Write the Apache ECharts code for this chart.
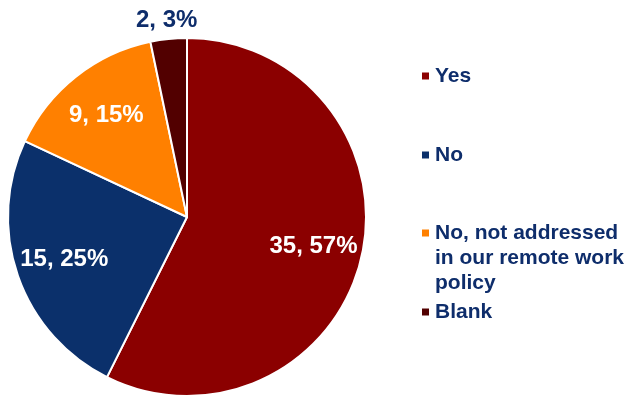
<!DOCTYPE html>
<html>
<head>
<meta charset="utf-8">
<script src="https://cdn.jsdelivr.net/npm/echarts@6/dist/echarts.min.js"></script>
<style>
  html, body { margin: 0; padding: 0; background: #ffffff; }
  #chart { width: 627px; height: 397px; }
</style>
</head>
<body>
<div id="chart"></div>
<script>
// Survey responses
const categories = ['Yes', 'No', 'No, not addressed in our remote work policy', 'Blank'];
const legendText = ['Yes', 'No', 'No, not addressed\nin our remote work\npolicy', 'Blank'];
const counts = [35, 15, 9, 2];

const sliceColors = ['#8B0000', '#0B306B', '#FF8000', '#520000'];
const navy = '#0E2D6B';
const font = "'Liberation Sans', Arial, sans-serif";

const chart = echarts.init(document.getElementById('chart'));

const center = [187, 217];
const outerR = 179;
const total = counts.reduce((a, b) => a + b, 0);

// Main pie: only the tiny slice carries its label outside
const pieData = categories.map((name, i) => ({
  name,
  value: counts[i],
  itemStyle: { color: sliceColors[i] },
  label: counts[i] / total < 0.05
    ? { show: true, position: 'outside', color: navy }
    : { show: false },
  labelLine: { show: false }
}));

// Transparent ring that places the inside labels further out
const labelData = categories.map((name, i) => ({
  name,
  value: counts[i],
  label: { show: counts[i] / total >= 0.05 }
}));

// One legend block per entry so the vertical spacing can follow the layout.
// The wrapped entry gets two leading empty lines so its swatch sits on the first line.
const legendTops = [59, 138, 165.5, 295];
const legends = categories.map((name, i) => ({
  data: [name],
  orient: 'vertical',
  left: 415,
  top: legendTops[i],
  itemWidth: 9,
  itemHeight: 9,
  icon: 'rect',
  selectedMode: false,
  formatter: () => (legendText[i].indexOf('\n') >= 0 ? '\n\n' : '') + legendText[i],
  textStyle: {
    fontFamily: font,
    fontWeight: 'bold',
    fontSize: 21,
    lineHeight: legendText[i].indexOf('\n') >= 0 ? 25 : 24,
    color: navy
  }
}));

chart.setOption({
  animation: false,
  legend: legends,
  series: [
    {
      type: 'pie',
      center,
      radius: [0, outerR],
      startAngle: 90,
      clockwise: true,
      percentPrecision: 0,
      itemStyle: { borderColor: '#ffffff', borderWidth: 2 },
      label: {
        formatter: '{c}, {d}%',
        fontFamily: font,
        fontWeight: 'bold',
        fontSize: 24,
        distanceToLabelLine: 0
      },
      labelLine: { length: 19, length2: 0 },
      labelLayout: () => ({ align: 'center' }),
      emphasis: { disabled: true },
      data: pieData
    },
    {
      type: 'pie',
      center,
      radius: [84, 170],
      startAngle: 90,
      clockwise: true,
      percentPrecision: 0,
      silent: true,
      itemStyle: { color: 'rgba(0,0,0,0)' },
      label: {
        position: 'inside',
        formatter: '{c}, {d}%',
        color: '#ffffff',
        fontFamily: font,
        fontWeight: 'bold',
        fontSize: 24
      },
      labelLine: { show: false },
      emphasis: { disabled: true },
      data: labelData
    }
  ]
});
</script>
</body>
</html>
